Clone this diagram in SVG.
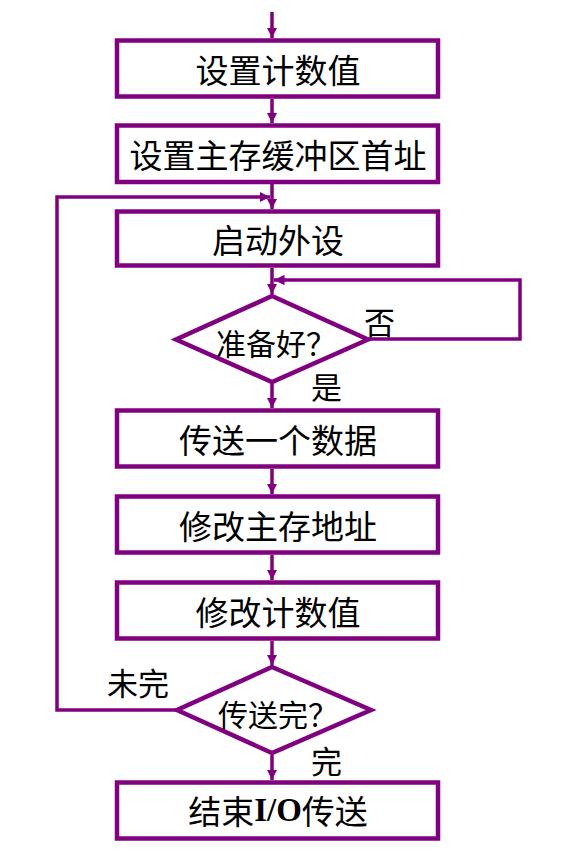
<svg xmlns="http://www.w3.org/2000/svg" width="567" height="854" viewBox="0 0 567 854">
<style>
.box{fill:#fff;stroke:#800080;stroke-width:4.5}
.dia{fill:#fff;stroke:#800080;stroke-width:4.5}
.ln{fill:none;stroke:#800080;stroke-width:3.5}
.t{font-family:"Noto Sans CJK SC","Noto Sans",sans-serif;font-size:33px;fill:#000;text-anchor:middle;dominant-baseline:central}
.lab{font-family:"Noto Sans CJK SC","Noto Sans",sans-serif;font-size:31px;fill:#000}
.io{font-family:"Liberation Serif",serif;font-weight:bold}
</style>
<defs>
<marker id="ah" viewBox="0 0 10 10" refX="10" refY="5" markerWidth="3" markerHeight="3" orient="auto" markerUnits="strokeWidth">
<path d="M0,0 L10,5 L0,10 z" fill="#800080"/>
</marker>
</defs>
<g id="connectors">
<line class="ln" x1="272" y1="12" x2="272" y2="38" marker-end="url(#ah)"/>
<line class="ln" x1="272" y1="99" x2="272" y2="123" marker-end="url(#ah)"/>
<line class="ln" x1="272" y1="184" x2="272" y2="209" marker-end="url(#ah)"/>
<line class="ln" x1="272" y1="268" x2="272" y2="294" marker-end="url(#ah)"/>
<line class="ln" x1="272" y1="383" x2="272" y2="408" marker-end="url(#ah)"/>
<line class="ln" x1="272" y1="469" x2="272" y2="494" marker-end="url(#ah)"/>
<line class="ln" x1="272" y1="555" x2="272" y2="580" marker-end="url(#ah)"/>
<line class="ln" x1="272" y1="641" x2="272" y2="665" marker-end="url(#ah)"/>
<line class="ln" x1="272" y1="755" x2="272" y2="780" marker-end="url(#ah)"/>
<polyline class="ln" points="368,339 520,339 520,280 274,280" marker-end="url(#ah)"/>
<polyline class="ln" points="177,710 57,710 57,197 270,197" marker-end="url(#ah)"/>
</g>
<g id="n1"><rect class="box" x="117" y="40.5" width="321" height="56"/><text class="t" x="278" y="69">设置计数值</text></g>
<g id="n2"><rect class="box" x="117" y="125.5" width="321" height="56.5"/><text class="t" x="278" y="154">设置主存缓冲区首址</text></g>
<g id="n3"><rect class="box" x="117" y="211.5" width="321" height="54"/><text class="t" x="278" y="239">启动外设</text></g>
<g id="d1"><polygon class="dia" points="272,296 368,339.5 272,382 176,339.5"/><text class="t" x="276" y="342" style="font-size:30px">准备好？</text></g>
<g id="n4"><rect class="box" x="117" y="410.5" width="321" height="56"/><text class="t" x="278" y="439">传送一个数据</text></g>
<g id="n5"><rect class="box" x="117" y="496.5" width="321" height="56"/><text class="t" x="278" y="525">修改主存地址</text></g>
<g id="n6"><rect class="box" x="117" y="582.5" width="321" height="56"/><text class="t" x="278" y="611">修改计数值</text></g>
<g id="d2"><polygon class="dia" points="272,667 371,710 272,753 177,710"/><text class="t" x="278" y="713" style="font-size:30px">传送完？</text></g>
<g id="n7"><rect class="box" x="117" y="782.5" width="321" height="56"/><text class="t" x="278" y="810">结束<tspan class="io">I/O</tspan>传送</text></g>
<g id="labels">
<text class="lab" x="364" y="334">否</text>
<text class="lab" x="311" y="399">是</text>
<text class="lab" x="107" y="695">未完</text>
<text class="lab" x="311" y="773">完</text>
</g>
</svg>
